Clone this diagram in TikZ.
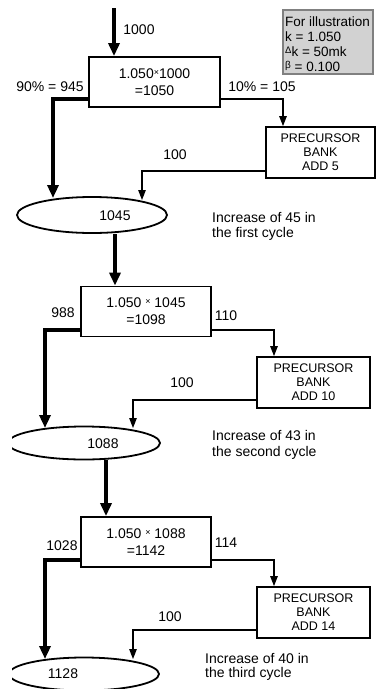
\documentclass[tikz,border=0pt]{standalone}
\usepackage{fontspec}
\setmainfont{Liberation Sans}
\usetikzlibrary{arrows.meta,shapes.geometric}
\newcommand{\mfont}{\fontsize{14}{17}\selectfont}
\newcommand{\pfont}{\fontsize{12.5}{14}\selectfont}
\newcommand{\lfont}{\fontsize{13.5}{14.7}\selectfont}
\newcommand{\tms}{\raisebox{3pt}{\fontsize{9}{9}\selectfont ×}}
\begin{document}
\begin{tikzpicture}[x=1pt,y=-1pt,
  txt/.style={inner sep=0pt, font=\mfont},
  calcbox/.style={draw, line width=1.8pt, inner sep=0pt, align=center, font=\mfont, minimum height=50pt},
  precbox/.style={draw, line width=1.8pt, inner sep=0pt, align=center, font=\pfont, minimum width=111pt, minimum height=51pt},
  ell/.style={draw, ellipse, line width=1.8pt, inner sep=0pt},
  bigarrow/.style={line width=4pt, -{Triangle[width=11pt,length=13pt]}},
  smallarrow/.style={line width=1.3pt, -{Triangle[width=7.5pt,length=10pt]}}]
\useasboundingbox (0,0) rectangle (376,689);

% legend
\node[draw=gray, line width=1.5pt, fill=gray!35, inner sep=0pt, minimum width=90pt, minimum height=64pt] (leg) at (328,42) {};
\node[inner sep=0pt, anchor=north west, align=left, font=\lfont] (legt) at (285,17)
 {For illustration\\k = 1.050\\{\raisebox{3pt}{\fontsize{9.5}{9.5}\selectfont Δ}}k = 50mk\\{\raisebox{3pt}{\fontsize{10}{10}\selectfont β}} = 0.100};

% ---- cycle 1
\coordinate (start) at (114,8);
\node[calcbox, minimum width=131pt] (b1) at (154.5,82) {1.050\tms1000\\=1050};
\node[txt] (l1000) at (139,30) {1000};
\node[txt] (l945) at (50,87) {90\% = 945};
\node[txt] (l105) at (262,87) {10\% = 105};
\node[precbox, minimum width=109pt] (p1) at (320.5,152.5) {PRECURSOR\\BANK\\ADD 5};
\node[txt] (l100a) at (175,155) {100};
\node[ell, minimum width=150pt, minimum height=36pt] (e1) at (92,215) {};
\node[txt] (t1) at (115,216) {1045};
\node[txt, anchor=west] (inc1a) at (212,217) {Increase of 45 in};
\node[txt, anchor=west] (inc1b) at (212,234) {the first cycle};
\coordinate (b1l) at (89,99);
\coordinate (b1r) at (220,99);
\coordinate (e1a) at (53,198);
\coordinate (e1b) at (142,200);
\coordinate (p1l) at (266,171);
\draw[bigarrow] (start) -- (b1.north -| start);
\draw[bigarrow] (b1l) -| (e1a);
\draw[smallarrow] (b1r) -| (p1.north -| 283,0);
\draw[smallarrow] (p1l) -| (e1b);

% ---- cycle 2
\node[calcbox, minimum width=130pt] (b2) at (146,311.5) {1.050 \tms{} 1045\\=1098};
\node[txt] (l988) at (63,313) {988};
\node[txt] (l110) at (226,316) {110};
\node[precbox, minimum width=113pt] (p2) at (313.5,382.5) {PRECURSOR\\BANK\\ADD 10};
\node[txt] (l100b) at (182,383) {100};
\begin{scope}
\clip (12,0) rectangle (376,689);
\node[ell, minimum width=152pt, minimum height=33pt] (e2) at (84,443) {};
\node[ell, minimum width=150pt, minimum height=33pt] (e3) at (84,674) {};
\end{scope}
\node[txt] (t2) at (103,444) {1088};
\node[txt, anchor=west] (inc2a) at (212,435) {Increase of 43 in};
\node[txt, anchor=west] (inc2b) at (212,453) {the second cycle};
\coordinate (b2l) at (81,330);
\coordinate (b2r) at (211,330);
\coordinate (e2a) at (45,428);
\coordinate (e2b) at (133,428);
\coordinate (p2l) at (257,400);
\draw[bigarrow] (e1.south -| 115,0) -- (b2.north -| 115,0);
\draw[bigarrow] (b2l) -| (e2a);
\draw[smallarrow] (b2r) -| (p2.north -| 274,0);
\draw[smallarrow] (p2l) -| (e2b);

% ---- cycle 3
\node[calcbox, minimum width=130pt] (b3) at (146,542) {1.050 \tms{} 1088\\=1142};
\node[txt] (l1028) at (62,546) {1028};
\node[txt] (l114) at (226,543) {114};
\node[precbox, minimum width=113pt] (p3) at (313.5,612.5) {PRECURSOR\\BANK\\ADD 14};
\node[txt] (l100c) at (170,617) {100};
\node[txt] (t3) at (63,674) {1128};
\node[txt, anchor=west] (inc3a) at (205,658) {Increase of 40 in};
\node[txt, anchor=west] (inc3b) at (205,674) {the third cycle};
\coordinate (b3l) at (81,560);
\coordinate (b3r) at (211,560);
\coordinate (e3a) at (45,659);
\coordinate (e3b) at (133,659);
\coordinate (p3l) at (257,630);
\draw[bigarrow] (e2.south -| 106,0) -- (b3.north -| 106,0);
\draw[bigarrow] (b3l) -| (e3a);
\draw[smallarrow] (b3r) -| (p3.north -| 274,0);
\draw[smallarrow] (p3l) -| (e3b);
\end{tikzpicture}
\end{document}
